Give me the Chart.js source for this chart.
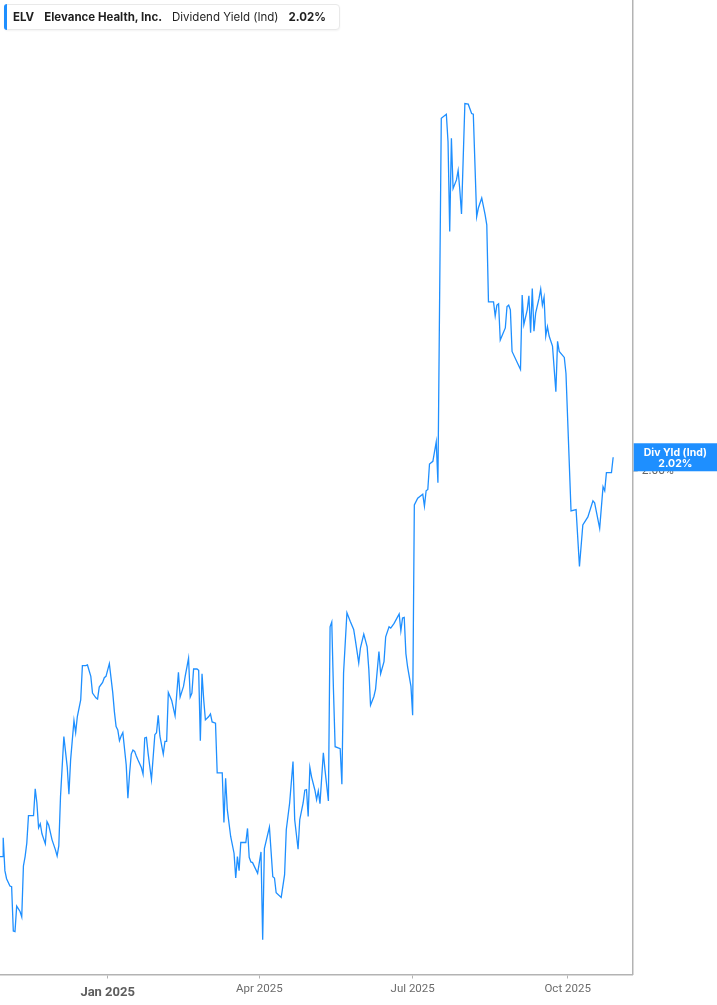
<!DOCTYPE html>
<html><head><meta charset="utf-8">
<script src="https://cdn.jsdelivr.net/npm/chart.js@4.4.1/dist/chart.umd.min.js"></script>
<style>
html,body{margin:0;padding:0;background:#fff;}
#wrap{position:relative;width:717px;height:1005px;}
#legend{position:absolute;left:4px;top:4px;height:26px;box-sizing:border-box;border:1px solid #e9e9e9;border-radius:4px;background:#fff;display:flex;align-items:center;padding:0 13px 0 8px;font-family:Inter,'Noto Sans',sans-serif;font-size:11.5px;color:#1f1f1f;box-shadow:0 1px 2px rgba(0,0,0,0.05);white-space:nowrap;z-index:2;}
#legend .bar{position:absolute;left:-1px;top:-1px;bottom:-1px;width:3px;background:#1e8fff;border-radius:4px 0 0 4px;}
#legend span{margin-right:10px;}
#legend span:last-child{margin-right:0;}
#legend .b{font-weight:700;}
</style>
</head><body>
<div id="wrap">
  <div id="legend"><div class="bar"></div><span class="b">ELV</span><span class="b">Elevance Health, Inc.</span><span>Dividend Yield (Ind)</span><span class="b" id="lv">2.02%</span></div>
  <canvas id="c"></canvas>
</div>
<script>
// days since 2025-01-01 (trading-day vertices)
const dayOffsets = [
 -64,-62,-62,-61,-60,-58,-57,-56,-55,-54,
 -52,-51,-50,-49,-48,-47,-44,-43,-42,-41,
 -40,-39,-37,-36,-35,-33,-31,-30,-29,-28,
 -26,-24,-23,-22,-20,-19,-18,-16,-15,-13,
 -12,-10,-9,-7,-6,-5,-3,-2,-1,1,
 3,4,5,6,7,8,9,11,12,13,
 14,15,16,17,18,20,21,22,23,24,
 26,28,29,30,31,33,34,35,36,38,
 40,42,43,45,46,48,49,50,51,53,
 54,55,56,57,58,60,61,62,64,65,
 68,69,70,71,73,75,76,77,78,79,
 82,83,84,85,86,89,91,92,93,96,
 98,99,100,103,105,106,108,110,111,113,
 114,116,117,118,119,120,121,123,124,125,
 126,128,129,131,132,133,134,135,138,139,
 140,142,144,146,147,149,150,152,154,155,
 156,158,159,161,162,164,165,167,168,170,
 173,174,175,176,177,178,180,181,182,184,
 187,188,189,190,191,193,195,196,198,201,
 202,203,204,205,207,208,209,210,212,214,
 216,217,219,220,222,224,225,226,229,230,
 231,232,233,236,237,238,239,240,245,246,
 247,249,250,251,252,253,254,256,257,258,
 259,260,261,262,264,266,267,268,271,272,
 275,278,280,282,285,288,289,292,294,295,
 296,299,300
];
// ELV dividend yield (indicated), %
const yieldPct = [
 1.424,1.424,1.452,1.403,1.391,1.380,1.379,1.313,1.312,1.350,
 1.342,1.334,1.410,1.424,1.444,1.485,1.485,1.525,1.504,1.467,
 1.473,1.458,1.443,1.476,1.471,1.449,1.434,1.425,1.440,1.513,
 1.603,1.558,1.517,1.568,1.627,1.609,1.633,1.658,1.709,1.709,
 1.710,1.693,1.668,1.661,1.659,1.677,1.684,1.691,1.693,1.712,
 1.669,1.640,1.618,1.613,1.597,1.604,1.609,1.561,1.511,1.548,
 1.577,1.583,1.581,1.574,1.568,1.557,1.547,1.601,1.602,1.578,
 1.539,1.606,1.609,1.635,1.604,1.577,1.596,1.596,1.669,1.657,
 1.634,1.699,1.662,1.678,1.693,1.720,1.662,1.668,1.704,1.704,
 1.702,1.597,1.697,1.658,1.628,1.633,1.637,1.625,1.623,1.549,
 1.549,1.475,1.541,1.494,1.454,1.429,1.392,1.424,1.403,1.445,
 1.445,1.466,1.423,1.416,1.415,1.399,1.431,1.300,1.436,1.468,
 1.394,1.392,1.370,1.363,1.397,1.464,1.504,1.566,1.479,1.435,
 1.479,1.504,1.523,1.524,1.484,1.557,1.543,1.523,1.509,1.522,
 1.503,1.579,1.553,1.507,1.767,1.774,1.673,1.588,1.585,1.532,
 1.698,1.788,1.775,1.763,1.747,1.713,1.735,1.756,1.737,1.703,
 1.650,1.663,1.674,1.730,1.697,1.715,1.752,1.767,1.765,1.772,
 1.786,1.761,1.780,1.781,1.727,1.707,1.678,1.635,1.949,1.959,
 1.965,1.947,1.970,1.972,2.010,2.014,2.043,1.982,2.526,2.532,
 2.491,2.357,2.496,2.421,2.434,2.448,2.419,2.383,2.548,2.547,
 2.533,2.532,2.379,2.392,2.407,2.382,2.367,2.252,2.252,2.231,
 2.247,2.249,2.195,2.213,2.245,2.247,2.240,2.178,2.151,2.262,
 2.218,2.240,2.261,2.206,2.272,2.208,2.235,2.257,2.271,2.247,
 2.259,2.201,2.215,2.201,2.186,2.118,2.193,2.178,2.169,2.145,
 1.940,1.942,1.857,1.919,1.931,1.955,1.952,1.914,1.976,1.970,
 1.997,1.997,2.020
];
const tickDays = [0, 90, 181, 273];
const tickLabels = ['Jan 2025', 'Apr 2025', 'Jul 2025', 'Oct 2025'];
const yRefTick = 2.00;

const lastVal = yieldPct[yieldPct.length - 1];
document.getElementById('lv').textContent = lastVal.toFixed(2) + '%';

const labelPlugin = {
  id: 'labelPlugin',
  afterDraw(chart) {
    const ctx = chart.ctx, ys = chart.scales.y, area = chart.chartArea;
    ctx.save();
    // reference tick on right axis (mostly hidden behind label box)
    const p = ys.getPixelForValue(yRefTick);
    ctx.strokeStyle = '#b3b3b3'; ctx.lineWidth = 1;
    ctx.beginPath(); ctx.moveTo(area.right, p + 0.5); ctx.lineTo(area.right + 5, p + 0.5); ctx.stroke();
    ctx.fillStyle = '#666'; ctx.font = '12px Roboto'; ctx.textAlign = 'left'; ctx.textBaseline = 'middle';
    ctx.fillText(yRefTick.toFixed(2) + '%', area.right + 9, p);
    // last value label box
    const ly = ys.getPixelForValue(lastVal);
    ctx.fillStyle = '#1e8fff';
    ctx.fillRect(area.right + 1, ly - 14, chart.width - area.right - 1, 28);
    ctx.fillStyle = '#fff'; ctx.font = 'bold 10.5px Inter'; ctx.textAlign = 'center';
    const cx = (area.right + chart.width) / 2 + 0.5;
    ctx.fillText('Div Yld (Ind)', cx, ly - 4.5);
    ctx.fillText(lastVal.toFixed(2) + '%', cx, ly + 6.5);
    ctx.restore();
  }
};

new Chart(document.getElementById('c'), {
  type: 'line',
  data: {
    datasets: [{
      data: dayOffsets.map((d, i) => ({x: d, y: yieldPct[i]})),
      borderColor: '#1e8fff',
      borderWidth: 1.3,
      pointRadius: 0,
      tension: 0,
      fill: false
    }]
  },
  options: {
    responsive: true,
    maintainAspectRatio: false,
    animation: false,
    devicePixelRatio: 1,
    layout: {padding: 0},
    plugins: {legend: {display: false}, tooltip: {enabled: false}},
    scales: {
      x: {
        type: 'linear',
        min: -63.9, max: 311.6,
        afterBuildTicks: s => { s.ticks = tickDays.map(v => ({value: v})); },
        afterFit: s => { s.height = 30.5; },
        grid: {drawOnChartArea: false, drawTicks: true, tickLength: 4, color: '#b3b3b3', lineWidth: 1},
        border: {display: true, color: '#b3b3b3', width: 1.5},
        ticks: {
          autoSkip: false, maxRotation: 0, padding: 4,
          callback: v => tickLabels[tickDays.indexOf(v)],
          color: c => (c.tick && c.tick.value === 0) ? '#5e5e5e' : '#6b6b6b',
          font: c => (c.tick && c.tick.value === 0)
            ? {family: 'Roboto', size: 13, weight: 'bold', lineHeight: 1.6}
            : {family: 'Roboto', size: 11.5, weight: 'normal', lineHeight: 1.2}
        }
      },
      y: {
        position: 'right',
        min: 1.248, max: 2.7025,
        afterFit: s => { s.width = 84.3; },
        grid: {display: true, drawOnChartArea: false, drawTicks: false},
        border: {display: true, color: '#b3b3b3', width: 1.5},
        ticks: {display: false}
      }
    }
  },
  plugins: [labelPlugin]
});
</script>
</body></html>
